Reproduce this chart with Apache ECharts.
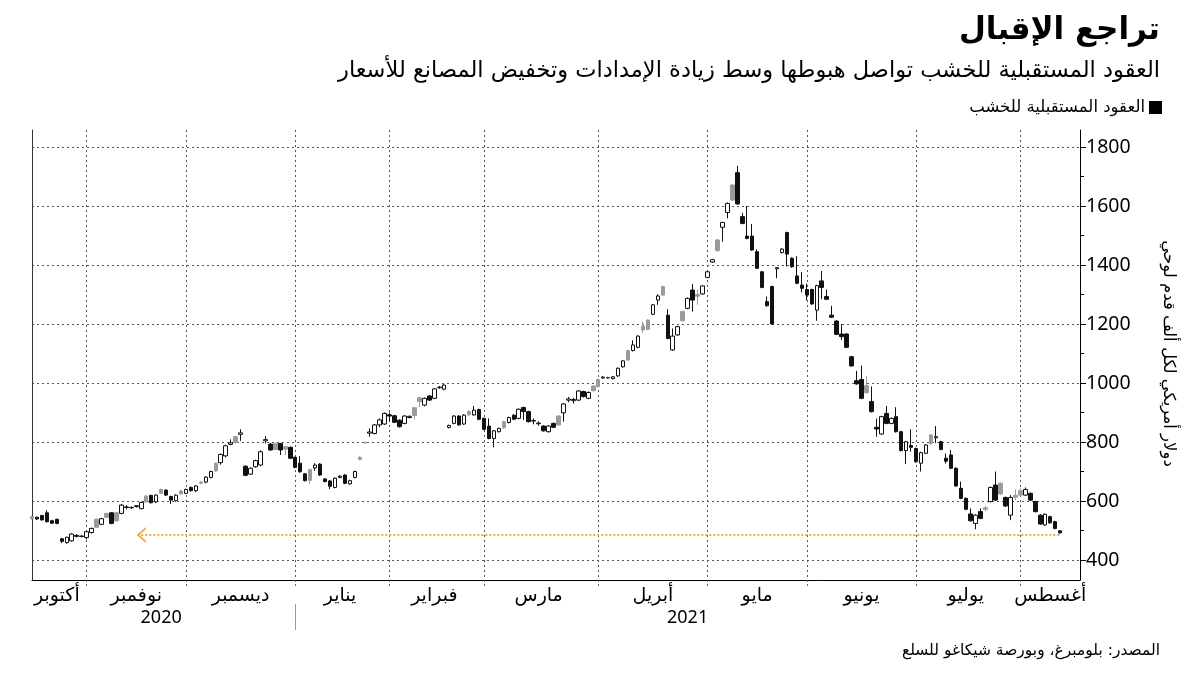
<!DOCTYPE html>
<html><head><meta charset="utf-8">
<script src="https://cdn.jsdelivr.net/npm/echarts@6.0.0/dist/echarts.min.js"></script>
<style>html,body{margin:0;padding:0;background:#fff}#c{width:1200px;height:675px}</style>
</head><body><div id="c"></div>
<script>
// ---- data (USD per thousand board feet), daily OHLC from 2020-10-16 ----
const firstDay = '2020-10-16';
const lastAxisDay = '2021-08-18';
const holidays = ['2020-11-26','2020-12-25','2021-01-01','2021-01-18','2021-02-15','2021-05-31','2021-07-05'];
const opens = [547,545,551,560,533,538,472,459,465,480,481,476,493,538,521,558,560,560,558,578,578,581,574,617,619,597,639,637,615,601,634,626,646,635,664,664,680,728,730,753,792,818,826,718,691,716,722,804,793,795,795,784,782,748,728,692,707,712,725,675,668,646,680,688,658,680,748,799,830,829,858,861,892,889,874,863,883,916,950,925,956,948,984,979,849,863,888,861,903,892,910,880,854,812,835,869,866,891,880,917,903,871,862,854,835,863,888,899,942,940,942,971,948,990,1012,1017,1018,1015,1024,1055,1110,1110,1121,1193,1213,1233,1281,1327,1230,1112,1163,1242,1253,1315,1300,1302,1358,1410,1485,1528,1578,1671,1713,1564,1498,1498,1445,1377,1276,1327,1387,1442,1510,1423,1363,1332,1317,1317,1247,1346,1293,1230,1210,1166,1166,1089,1008,1012,991,937,850,827,897,863,886,835,771,788,778,728,762,824,814,801,745,756,711,643,609,556,524,564,577,598,654,660,612,552,619,635,620,626,598,552,519,547,530,499];
const closes = [540,539,536,530,525,524,463,477,488,483,480,496,507,511,540,545,524,533,586,580,577,584,595,597,594,620,626,620,603,620,624,639,635,651,660,681,700,702,758,787,797,798,831,687,711,737,767,808,773,775,773,776,745,714,699,669,670,722,688,666,650,677,684,660,669,700,741,797,834,858,875,897,888,867,852,888,887,890,937,948,942,980,986,993,856,888,858,891,892,908,877,843,812,838,846,848,883,877,911,903,869,873,864,838,854,850,858,929,946,944,973,954,968,974,988,1020,1018,1021,1050,1075,1078,1129,1159,1180,1182,1265,1295,1298,1151,1159,1191,1211,1287,1281,1294,1329,1377,1418,1449,1544,1609,1620,1607,1541,1490,1451,1389,1324,1262,1200,1391,1454,1437,1394,1338,1321,1298,1268,1330,1324,1284,1223,1165,1157,1121,1058,997,948,967,903,844,886,863,880,835,771,801,782,733,764,790,795,818,775,735,711,651,609,572,533,552,541,572,646,603,624,583,612,613,620,639,603,564,522,555,526,507,492];
const lows = [537,536,534,527,522,521,457,455,462,476,477,470,490,508,518,542,521,530,555,572,573,578,572,595,592,593,624,617,590,598,621,623,632,630,657,660,677,699,723,748,789,795,804,684,688,713,718,795,770,772,756,756,742,711,696,666,658,702,685,663,640,643,677,657,655,677,738,795,818,826,850,858,869,864,849,860,880,877,918,921,939,945,980,976,846,860,855,858,889,889,874,840,809,782,832,845,863,874,877,875,866,860,855,835,832,847,855,869,935,930,939,951,945,971,985,1014,1015,1012,1021,1052,1075,1107,1118,1170,1179,1230,1265,1295,1148,1109,1160,1208,1250,1242,1265,1299,1355,1407,1445,1479,1558,1617,1604,1538,1487,1448,1386,1321,1259,1198,1355,1439,1395,1391,1335,1307,1280,1265,1211,1284,1281,1220,1162,1146,1118,1055,994,945,964,900,818,824,860,860,832,768,725,767,730,700,759,792,796,772,727,708,648,606,569,530,504,538,565,595,600,621,580,535,603,617,617,600,561,519,516,523,504,489];
const highs = [550,547,553,569,536,540,475,479,490,488,484,500,510,540,543,560,563,562,590,586,582,586,598,619,621,622,642,639,618,623,636,642,649,654,667,684,703,730,761,791,809,821,843,721,714,740,772,820,797,798,797,787,785,750,752,695,709,728,728,678,671,680,688,691,672,703,751,801,846,861,880,900,900,892,877,891,890,919,953,951,959,983,990,996,859,891,891,894,908,922,913,883,880,841,849,872,886,894,914,920,906,880,870,857,857,866,891,932,953,950,976,974,971,993,1015,1024,1021,1024,1053,1078,1113,1145,1162,1208,1216,1268,1301,1330,1250,1185,1194,1245,1290,1336,1317,1332,1380,1421,1488,1547,1612,1674,1736,1577,1600,1539,1453,1380,1293,1330,1393,1457,1513,1426,1430,1376,1337,1320,1333,1380,1317,1262,1213,1200,1169,1092,1041,1059,1024,988,880,889,922,883,918,838,804,843,781,767,793,827,854,804,761,773,714,666,612,575,555,575,583,649,700,663,615,620,639,643,646,629,601,555,558,550,533,500];
const latestLevel = 485;       // dotted guide back to the last time prices were this low
const guideFromDay = '2020-11-17';
const yTicks = [400, 1800, 200];
const monthNames = ['يناير','فبراير','مارس','أبريل','مايو','يونيو','يوليو','أغسطس','سبتمبر','أكتوبر','نوفمبر','ديسمبر'];
const seriesName = 'العقود المستقبلية للخشب';
const titleText = 'تراجع الإقبال';
const subtitleText = 'العقود المستقبلية للخشب تواصل هبوطها وسط زيادة الإمدادات وتخفيض المصانع للأسعار';
const unitText = 'دولار أمريكي لكل ألف قدم لوحي';
const sourceText = 'المصدر: بلومبرغ، وبورصة شيكاغو للسلع';

// ---- trading-day calendar ----
function fmt(d){return d.toISOString().slice(0,10);}
const days = [];
for (let d = new Date(firstDay+'T00:00:00Z'); fmt(d) <= lastAxisDay; d.setUTCDate(d.getUTCDate()+1)) {
  const wd = d.getUTCDay();
  if (wd === 0 || wd === 6) continue;
  if (holidays.includes(fmt(d))) continue;
  days.push(fmt(d));
}
const monthStart = new Set(), monthMid = new Map();
const groups = {};
days.forEach((s,i)=>{ const k=s.slice(0,7); (groups[k]=groups[k]||[]).push(i); });
Object.keys(groups).forEach((k,gi)=>{
  const g=groups[k];
  if (gi>0) monthStart.add(g[0]);
  monthMid.set(Math.round((g[0]+g[g.length-1])/2), monthNames[+k.slice(5,7)-1]);
});
const yGroups = {};
days.forEach((s,i)=>{ const k=s.slice(0,4); (yGroups[k]=yGroups[k]||[]).push(i); });
const yearStart = new Set(), yearMid = new Map();
Object.keys(yGroups).forEach((k,gi)=>{
  const g=yGroups[k];
  if (gi>0) yearStart.add(g[0]);
  yearMid.set(Math.round((g[0]+g[g.length-1])/2), k);
});

const BLACK='#111', GRAY='#9b9b9b';
const candles = opens.map((o,i)=>{
  const c = closes[i];
  const prev = i>0 ? closes[i-1] : c;
  let st;
  if (c >= o) st = {color:'#fff', borderColor:BLACK, color0:'#fff', borderColor0:BLACK};
  else if (c >= prev) st = {color:GRAY, borderColor:GRAY, color0:GRAY, borderColor0:GRAY};
  else st = {color:BLACK, borderColor:BLACK, color0:BLACK, borderColor0:BLACK};
  return {value:[o, c, lows[i], highs[i]], itemStyle:st};
});

// plot geometry: outer frame spans 130..580 px; labelled range 400..1800 spans 147..560 px
const frameTop=130, frameBottom=580, labTop=147, labBottom=560;
const perPx = (yTicks[1]-yTicks[0])/(labBottom-labTop);
const frameMin = yTicks[0] - (frameBottom-labBottom)*perPx;
const frameMax = yTicks[1] + (labTop-frameTop)*perPx;

const AR = "'DejaVu Sans', 'Noto Sans', sans-serif";
const chart = echarts.init(document.getElementById('c'), null, {renderer:'canvas'});
chart.setOption({
  animation:false,
  backgroundColor:'#fff',
  title:[
    {text:titleText, right:35, top:10, textStyle:{fontFamily:AR, fontSize:31, fontWeight:'bold', color:'#000'}},
    {text:subtitleText, right:35, top:55, textStyle:{fontFamily:AR, fontSize:22.5, fontWeight:'normal', color:'#000'}},
    {text:sourceText, right:35, top:638, textStyle:{fontFamily:AR, fontSize:15.5, fontWeight:'normal', color:'#000'}}
  ],
  legend:{right:33, top:94, align:'right', itemWidth:11, itemHeight:11, itemGap:6,
    textStyle:{fontFamily:AR, fontSize:16.5, color:'#000'},
    data:[{name:seriesName, icon:'rect', itemStyle:{color:'#000', borderColor:'#000'}}]},
  grid:[
    {left:32, right:120, top:frameTop, bottom:675-frameBottom},
    {left:32, right:120, top:labTop, bottom:675-labBottom}
  ],
  xAxis:[
    {type:'category', gridIndex:0, data:days, boundaryGap:false,
     axisLine:{show:true, lineStyle:{color:'#000', width:1}},
     axisTick:{show:true, interval:(i)=>monthStart.has(i), length:8, lineStyle:{color:'#666', type:[2,2]}},
     axisLabel:{interval:(i)=>monthMid.has(i), formatter:(v,i)=>monthMid.get(i)||'', margin:7,
       fontFamily:AR, fontSize:19, color:'#000'},
     splitLine:{show:true, interval:(i)=>monthStart.has(i), lineStyle:{color:'#555', type:[2,3], width:1}}},
    {type:'category', gridIndex:0, data:days, boundaryGap:false, position:'bottom', offset:24,
     axisLine:{show:false},
     axisTick:{show:true, interval:(i)=>yearStart.has(i), length:26, lineStyle:{color:'#999'}},
     axisLabel:{interval:(i)=>yearMid.has(i), formatter:(v,i)=>yearMid.get(i)||'', margin:5,
       fontFamily:"'Noto Sans', sans-serif", fontSize:18, color:'#000'},
     splitLine:{show:false}},
    {type:'category', gridIndex:1, data:days, boundaryGap:false, show:false}
  ],
  yAxis:[
    {type:'value', gridIndex:0, position:'right', min:frameMin, max:frameMax, scale:true,
     axisLine:{show:true, lineStyle:{color:'#000'}}, axisTick:{show:false}, axisLabel:{show:false}, splitLine:{show:false}},
    {type:'value', gridIndex:0, position:'left', min:frameMin, max:frameMax, scale:true,
     axisLine:{show:true, lineStyle:{color:'#333'}}, axisTick:{show:false}, axisLabel:{show:false}, splitLine:{show:false}},
    {type:'value', gridIndex:1, position:'right', min:yTicks[0], max:yTicks[1], interval:yTicks[2],
     axisLine:{show:false},
     axisTick:{show:true, length:6, lineStyle:{color:'#000'}},
     minorTick:{show:true, splitNumber:2, length:4, lineStyle:{color:'#000'}},
     axisLabel:{margin:6, formatter:(v)=>String(v), fontFamily:"'Noto Sans', sans-serif", fontSize:19.5, color:'#000'},
     splitLine:{show:true, lineStyle:{color:'#555', type:[2,3], width:1}},
     name:unitText, nameLocation:'middle', nameRotate:-90, nameGap:80,
     nameTextStyle:{fontFamily:AR, fontSize:16.5, color:'#000'}}
  ],
  series:[{
    name:seriesName, type:'candlestick', xAxisIndex:0, yAxisIndex:0,
    barWidth:4, data:candles,
    itemStyle:{color:'#fff', borderColor:BLACK, color0:BLACK, borderColor0:BLACK, borderWidth:1},
    markLine:{silent:true, animation:false, label:{show:false},
      lineStyle:{color:'#f2a93b', type:[2,2], width:2},
      data:[[
        {coord:[guideFromDay, latestLevel], symbol:'path://M0,10 L10,0 L20,10 L17,10 L10,3 L3,10 Z', symbolSize:[16,9]},
        {coord:[days[closes.length-1], latestLevel], symbol:'none'}
      ]]}
  }]
});
</script></body></html>
